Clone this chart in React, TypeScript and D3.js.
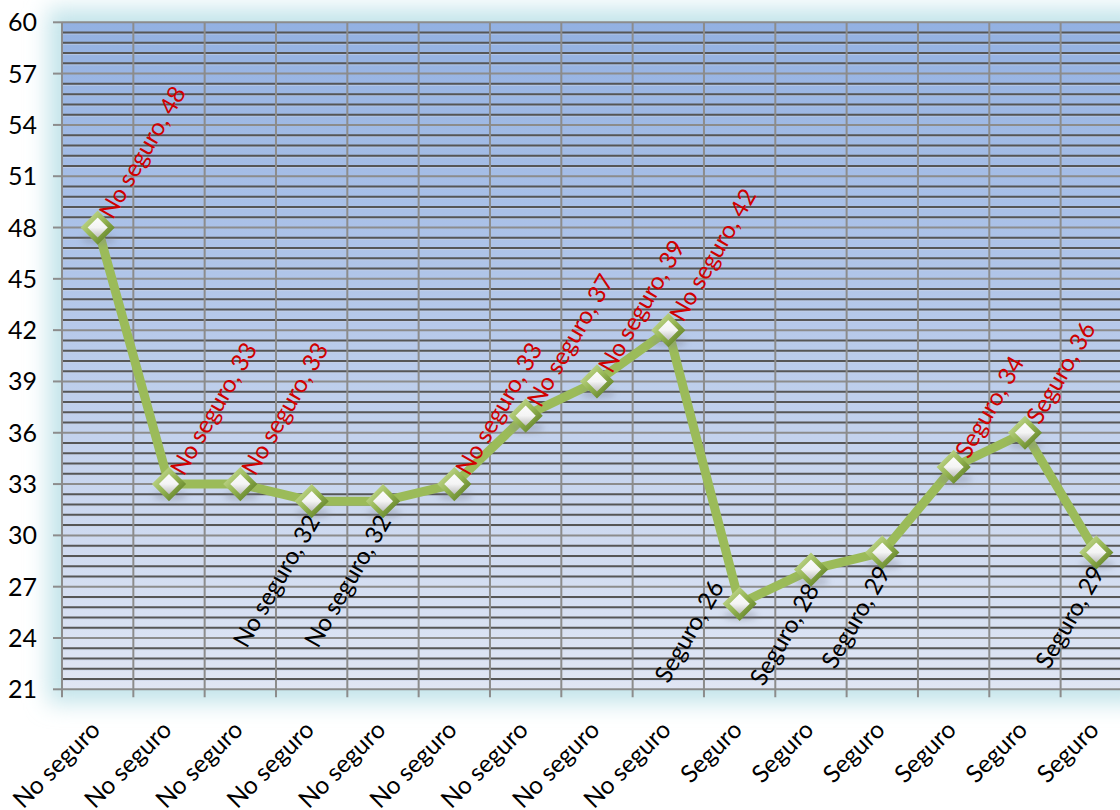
import React from "react";
import * as d3 from "d3";

const categories = [
  "No seguro", "No seguro", "No seguro", "No seguro", "No seguro", "No seguro",
  "No seguro", "No seguro", "No seguro", "Seguro", "Seguro", "Seguro", "Seguro",
  "Seguro", "Seguro",
];
const values = [48, 33, 33, 32, 32, 33, 37, 39, 42, 26, 28, 29, 34, 36, 29];
const labelSide = [
  "above", "above", "above", "below", "below", "above", "above", "above", "above",
  "left", "below", "below", "above", "above", "below",
];
const yTicks = [21, 24, 27, 30, 33, 36, 39, 42, 45, 48, 51, 54, 57, 60];
const yMin = 21;
const yMax = 60;
const minorStep = 0.6;

const W = 1120;
const H = 810;
const left = 62;
const top = 22.3;
const bottom = 689.3;
const band = 71.33;
const FONT = "Lato, 'DejaVu Sans', sans-serif";

export default function App() {
  const idx = categories.map((_, i) => i);
  const x = d3
    .scaleBand<number>()
    .domain(idx)
    .range([left, left + band * categories.length])
    .paddingInner(0)
    .paddingOuter(0);
  const y = d3.scaleLinear().domain([yMin, yMax]).range([bottom, top]);
  const cx = (i: number) => (x(i) as number) + x.bandwidth() / 2;
  const right = left + band * categories.length;

  const minorCount = Math.round((yMax - yMin) / minorStep);
  const minorVals = d3.range(minorCount + 1).map((k) => yMin + k * minorStep);
  const isMajor = (v: number) => Math.abs((v - yMin) / 3 - Math.round((v - yMin) / 3)) < 1e-6;

  const line = d3
    .line<number>()
    .x((_, i) => cx(i))
    .y((d) => y(d));

  const diamond = d3.symbol().type(d3.symbolDiamond2).size(470)() as string;

  return (
    <svg
      width={W}
      height={H}
      style={{ position: "absolute", left: 0, top: 0, background: "#fff" }}
      fontFamily={FONT}
    >
      <defs>
        <linearGradient id="plotBg" x1="0" y1="0" x2="0" y2="1">
          <stop offset="0" stopColor="#93b1e2" />
          <stop offset="0.45" stopColor="#b6c9ea" />
          <stop offset="1" stopColor="#e0e6f4" />
        </linearGradient>
        <filter id="glow" x="-20%" y="-20%" width="140%" height="140%">
          <feGaussianBlur stdDeviation="11" />
        </filter>
        <filter id="shadow" x="-50%" y="-50%" width="200%" height="200%">
          <feGaussianBlur stdDeviation="3" />
        </filter>
        <linearGradient id="mkFill" x1="0" y1="0" x2="0" y2="1">
          <stop offset="0" stopColor="#ffffff" />
          <stop offset="0.5" stopColor="#f4f4f4" />
          <stop offset="0.8" stopColor="#c8c8c8" />
          <stop offset="1" stopColor="#8f8f8f" />
        </linearGradient>
        <linearGradient id="mkStroke" x1="0" y1="0" x2="1" y2="1">
          <stop offset="0" stopColor="#c9dd98" />
          <stop offset="0.5" stopColor="#94b452" />
          <stop offset="1" stopColor="#5a7a22" />
        </linearGradient>
      </defs>

      {/* outer glow */}
      <rect
        x={left - 14}
        y={top - 14}
        width={right - left + 28}
        height={bottom - top + 28}
        fill="#c3e4ea"
        filter="url(#glow)"
      />

      {/* plot background */}
      <rect x={left} y={top} width={right - left} height={bottom - top} fill="url(#plotBg)" />

      {/* horizontal grid lines */}
      {minorVals.map((v, k) =>
        isMajor(v) ? (
          <line key={"g" + k} x1={left} x2={right} y1={y(v)} y2={y(v)} stroke="#8c8c8c" strokeWidth={2} />
        ) : (
          <g key={"g" + k}>
            <line x1={left} x2={right} y1={y(v) + 1.5} y2={y(v) + 1.5} stroke="#c8d2e6" strokeWidth={1} opacity={0.6} />
            <line x1={left} x2={right} y1={y(v)} y2={y(v)} stroke="#565656" strokeWidth={2} />
          </g>
        )
      )}

      {/* vertical grid lines + bottom tick marks */}
      {d3.range(categories.length + 1).map((k) => {
        const xv = left + k * x.step();
        return (
          <line key={"v" + k} x1={xv} x2={xv} y1={top} y2={bottom + 8} stroke="#8c8c8c" strokeWidth={2} />
        );
      })}

      {/* y axis ticks and labels */}
      {yTicks.map((t) => (
        <g key={"t" + t}>
          <line x1={left - 9} x2={left} y1={y(t)} y2={y(t)} stroke="#8c8c8c" strokeWidth={2} />
          <text x={37} y={y(t)} dy="0.36em" textAnchor="end" fontSize={25} fill="#000">
            {t}
          </text>
        </g>
      ))}

      {/* category labels */}
      {categories.map((c, i) => (
        <text
          key={"c" + i}
          transform={`translate(${cx(i) + 4},${bottom + 42}) rotate(-45)`}
          textAnchor="end"
          fontSize={24.5}
          fill="#000"
        >
          {c}
        </text>
      ))}

      {/* series line */}
      <path d={line(values) as string} fill="none" stroke="#9bbb59" strokeWidth={9} strokeLinejoin="round" />

      {/* markers */}
      {values.map((v, i) => (
        <g key={"m" + i} transform={`translate(${cx(i)},${y(v)})`}>
          <ellipse cx={1} cy={12} rx={17} ry={5} fill="#7a7f8c" opacity={0.35} filter="url(#shadow)" />
          <path d={diamond} fill="url(#mkFill)" stroke="url(#mkStroke)" strokeWidth={5} strokeLinejoin="miter" />
        </g>
      ))}

      {/* data labels */}
      {values.map((v, i) => {
        const side = labelSide[i];
        const text = `${categories[i]}, ${v}`;
        const px = cx(i);
        const py = y(v);
        if (side === "above") {
          return (
            <text
              key={"l" + i}
              transform={`translate(${px + 15},${py - 7}) rotate(-60)`}
              textAnchor="start"
              fontSize={24}
              fill="#d00000"
            >
              {text}
            </text>
          );
        }
        if (side === "left") {
          return (
            <text
              key={"l" + i}
              transform={`translate(${px - 15},${py - 17}) rotate(-60)`}
              textAnchor="end"
              fontSize={24}
              fill="#000"
            >
              {text}
            </text>
          );
        }
        return (
          <text
            key={"l" + i}
            transform={`translate(${px + 9},${py + 20}) rotate(-60)`}
            textAnchor="end"
            fontSize={24}
            fill="#000"
          >
            {text}
          </text>
        );
      })}
    </svg>
  );
}
